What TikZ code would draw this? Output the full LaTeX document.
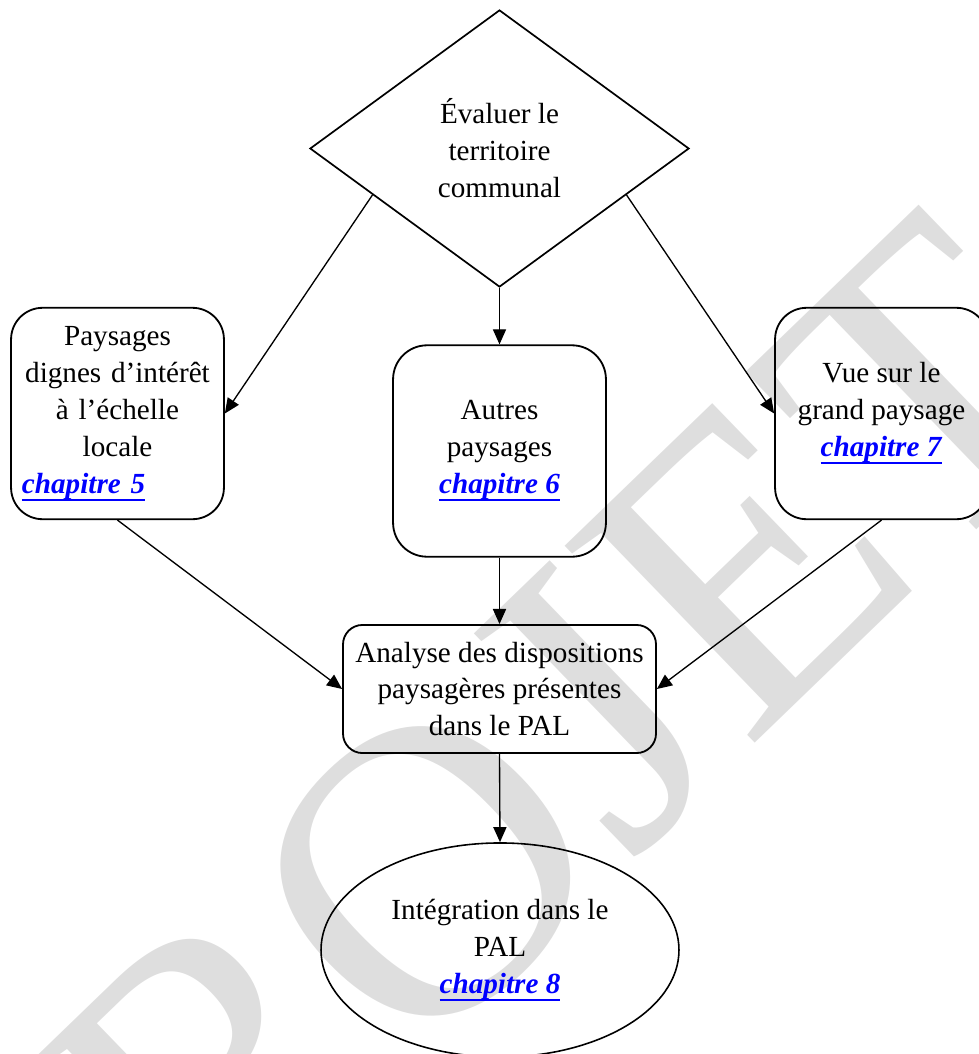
\documentclass[tikz,border=0pt]{standalone}
\usepackage{fontspec}
\setmainfont{Liberation Serif}
\usetikzlibrary{shapes.geometric,arrows.meta,calc}
\definecolor{linkblue}{RGB}{0,0,255}
\newcommand{\chap}[1]{\textcolor{linkblue}{\setbox0\hbox{\textbf{\textit{chapitre #1}}}\rlap{\rule[-3.2pt]{\wd0}{0.9pt}}\box0}}

\begin{document}
\begin{tikzpicture}[x=0.4115pt, y=-0.4115pt,
  every node/.style={font=\fontsize{12}{15.2}\selectfont, align=center},
  box/.style={draw, line width=0.75pt, rounded corners=13pt, minimum width=87.6pt, minimum height=87pt, inner sep=0pt},
  link/.style={-{Triangle[length=6.2pt,width=5.4pt]}, line width=0.55pt}]
\useasboundingbox (0,0) rectangle (979,1054);
\node[rotate=44, text=black!13, font=\fontsize{172}{172}\selectfont] (mark) at (485,815) {PROJET};
\node[draw, diamond, line width=0.7pt, minimum width=156pt, minimum height=114pt, inner sep=0pt] (eval) at (499.5,148.5) {Évaluer le\\territoire\\communal};
\node[box, text width=78.6pt] (local) at (117.5,413.5) {Paysages\\dignes d’intérêt\\à l’échelle\\locale\\\makebox[\hsize][l]{\chap{5}}};
\node[box, rounded corners=14pt] (other) at (499.5,451) {Autres\\paysages\\\chap{6}};
\node[box] (view) at (881.5,413.5) {Vue sur le\\grand paysage\\\chap{7}};
\node[box, rounded corners=8pt, minimum width=128.8pt, minimum height=52.7pt] (analysis) at (499.5,689) {Analyse des dispositions\\paysagères présentes\\dans le PAL};
\node[draw, ellipse, line width=0.65pt, minimum width=147.3pt, minimum height=88.1pt, inner sep=0pt] (integ) at (500,950) {Intégration dans le\\PAL\\\chap{8}};
\draw[link] ($(eval.west)!0.333!(eval.south)$) -- (local.east);
\draw[link] (eval.south) -- (other.north);
\draw[link] ($(eval.east)!0.333!(eval.south)$) -- (view.west);
\draw[link] (local.south) -- (analysis.west);
\draw[link] (other.south) -- (analysis.north);
\draw[link] (view.south) -- (analysis.east);
\draw[link] (analysis.south) -- (integ.north);
\end{tikzpicture}
\end{document}
